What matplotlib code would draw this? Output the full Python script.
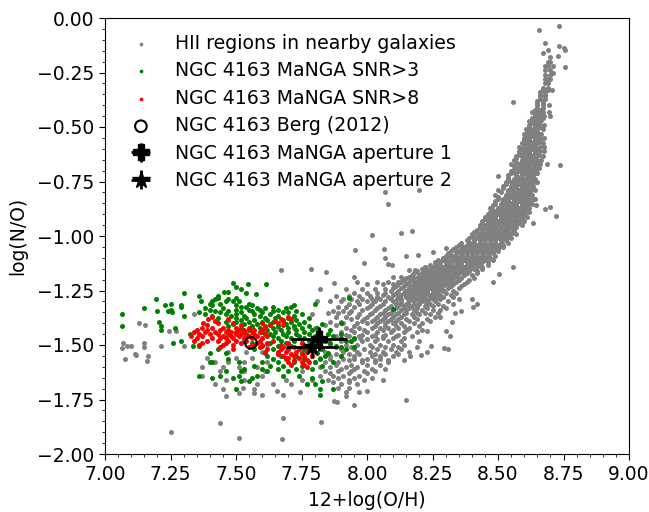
#!/usr/bin/env python
import matplotlib
matplotlib.use("Agg")
import matplotlib.pyplot as plt
from matplotlib.ticker import MultipleLocator

# all points, one row = (log N/O, [12+log O/H, ...])
hii_band = [
    (-1.46, [7.88, 7.93, 7.97, 8.02, 8.06, 8.11]),
    (-1.44, [7.90, 7.95, 8.00, 8.04, 8.09, 8.14, 8.19]),
    (-1.42, [7.92, 7.97, 8.02, 8.05, 8.08, 8.12, 8.16]),
    (-1.40, [7.91, 7.96, 8.00, 8.04, 8.07, 8.10, 8.13, 8.18, 8.21]),
    (-1.38, [7.94, 7.99, 8.03, 8.06, 8.09, 8.12, 8.15, 8.19, 8.23]),
    (-1.36, [7.97, 8.01, 8.05, 8.08, 8.11, 8.14, 8.17, 8.20, 8.24]),
    (-1.34, [7.98, 8.03, 8.07, 8.10, 8.13, 8.15, 8.18, 8.21, 8.25, 8.28]),
    (-1.32, [8.01, 8.05, 8.09, 8.12, 8.14, 8.17, 8.19, 8.22, 8.25, 8.29]),
    (-1.30, [8.03, 8.07, 8.10, 8.13, 8.16, 8.18, 8.21, 8.23, 8.26, 8.31]),
    (-1.28, [8.04, 8.08, 8.12, 8.15, 8.17, 8.19, 8.21, 8.24, 8.26, 8.29, 8.33]),
    (-1.26, [8.07, 8.11, 8.14, 8.16, 8.19, 8.21, 8.23, 8.25, 8.27, 8.30, 8.34]),
    (-1.24, [8.10, 8.13, 8.16, 8.18, 8.20, 8.22, 8.24, 8.26, 8.28, 8.31, 8.35]),
    (-1.22, [8.12, 8.15, 8.18, 8.20, 8.22, 8.24, 8.26, 8.28, 8.30, 8.33, 8.37]),
    (-1.20, [8.14, 8.17, 8.20, 8.22, 8.24, 8.26, 8.28, 8.30, 8.32, 8.35, 8.39]),
    (-1.18, [8.17, 8.20, 8.22, 8.24, 8.26, 8.28, 8.30, 8.32, 8.34, 8.37, 8.40]),
    (-1.16, [8.19, 8.22, 8.24, 8.27, 8.29, 8.31, 8.33, 8.35, 8.37, 8.39, 8.42]),
    (-1.14, [8.22, 8.25, 8.27, 8.29, 8.31, 8.33, 8.35, 8.37, 8.39, 8.42, 8.44]),
    (-1.12, [8.26, 8.28, 8.30, 8.32, 8.34, 8.36, 8.38, 8.40, 8.42, 8.44, 8.46]),
    (-1.10, [8.29, 8.31, 8.33, 8.35, 8.37, 8.39, 8.41, 8.43, 8.45, 8.47]),
    (-1.08, [8.31, 8.34, 8.36, 8.38, 8.40, 8.42, 8.44, 8.46, 8.48]),
    (-1.06, [8.33, 8.36, 8.38, 8.40, 8.42, 8.44, 8.46, 8.48, 8.50]),
    (-1.04, [8.35, 8.38, 8.40, 8.42, 8.44, 8.46, 8.48, 8.50, 8.52]),
    (-1.02, [8.38, 8.41, 8.43, 8.45, 8.47, 8.49, 8.51, 8.53]),
    (-1.00, [8.40, 8.42, 8.44, 8.46, 8.48, 8.50, 8.52, 8.54]),
    (-0.98, [8.41, 8.44, 8.46, 8.48, 8.50, 8.52, 8.54, 8.56]),
    (-0.96, [8.43, 8.45, 8.47, 8.49, 8.51, 8.53, 8.55, 8.57]),
    (-0.94, [8.44, 8.46, 8.48, 8.50, 8.52, 8.54, 8.56, 8.58]),
    (-0.92, [8.45, 8.47, 8.49, 8.51, 8.53, 8.55, 8.57, 8.59]),
    (-0.90, [8.46, 8.48, 8.50, 8.52, 8.54, 8.56, 8.58, 8.60]),
    (-0.88, [8.48, 8.50, 8.52, 8.54, 8.56, 8.58, 8.60]),
    (-0.86, [8.48, 8.51, 8.53, 8.55, 8.57, 8.59, 8.61]),
    (-0.84, [8.49, 8.52, 8.54, 8.56, 8.58, 8.60, 8.62]),
    (-0.82, [8.50, 8.53, 8.55, 8.57, 8.59, 8.61]),
    (-0.80, [8.51, 8.54, 8.56, 8.58, 8.60, 8.62]),
    (-0.78, [8.52, 8.55, 8.57, 8.59, 8.61, 8.63]),
    (-0.76, [8.53, 8.56, 8.58, 8.60, 8.62]),
    (-0.74, [8.54, 8.56, 8.58, 8.60, 8.62, 8.64]),
    (-0.72, [8.54, 8.57, 8.59, 8.61, 8.63]),
    (-0.70, [8.55, 8.58, 8.60, 8.62, 8.64]),
    (-0.68, [8.56, 8.58, 8.60, 8.62, 8.64]),
    (-0.66, [8.57, 8.59, 8.61, 8.63, 8.65]),
    (-0.64, [8.57, 8.60, 8.62, 8.64]),
    (-0.62, [8.58, 8.60, 8.62, 8.64]),
    (-0.60, [8.59, 8.61, 8.63, 8.65]),
    (-0.58, [8.60, 8.62, 8.64]),
    (-0.56, [8.60, 8.62, 8.64, 8.66]),
    (-0.54, [8.61, 8.63, 8.65]),
    (-0.52, [8.61, 8.63, 8.65]),
    (-0.50, [8.62, 8.64, 8.66]),
    (-0.48, [8.63, 8.65]),
    (-0.46, [8.63, 8.65, 8.67]),
    (-0.44, [8.64, 8.66]),
    (-0.42, [8.64, 8.66]),
    (-0.40, [8.65, 8.67]),
    (-0.38, [8.65, 8.67]),
    (-0.36, [8.66, 8.68]),
    (-0.34, [8.66, 8.68]),
    (-0.32, [8.67, 8.69]),
    (-0.30, [8.68, 8.69]),
    (-0.28, [8.68, 8.69, 8.70]),
    (-0.26, [8.68, 8.70]),
    (-0.24, [8.68, 8.70]),
    (-0.22, [8.68, 8.69, 8.71]),
    (-0.20, [8.69, 8.70]),
]

# second pass over the solid part of the band, between the rows above
hii_fill = [
    (-1.473, [7.95, 8.00, 8.04]), (-1.453, [7.92, 7.98, 8.03, 8.07, 8.12]),
    (-1.432, [7.94, 7.99, 8.06, 8.10, 8.15, 8.21]), (-1.412, [7.95, 8.03, 8.07, 8.11, 8.14, 8.20]),
    (-1.391, [7.98, 8.02, 8.05, 8.08, 8.11, 8.16, 8.24]), (-1.372, [8.00, 8.04, 8.07, 8.10, 8.13, 8.18, 8.26]),
    (-1.353, [8.02, 8.06, 8.09, 8.12, 8.15, 8.19, 8.22, 8.27]), (-1.332, [8.00, 8.04, 8.08, 8.11, 8.14, 8.16, 8.19, 8.23, 8.30]),
    (-1.312, [8.02, 8.06, 8.11, 8.13, 8.15, 8.18, 8.20, 8.24, 8.27, 8.33]), (-1.291, [8.05, 8.09, 8.13, 8.16, 8.18, 8.20, 8.22, 8.25, 8.28, 8.35]),
    (-1.272, [8.06, 8.10, 8.13, 8.15, 8.18, 8.20, 8.22, 8.24, 8.26, 8.28, 8.32]), (-1.252, [8.09, 8.12, 8.15, 8.17, 8.19, 8.21, 8.23, 8.25, 8.27, 8.29, 8.33]),
    (-1.231, [8.11, 8.14, 8.17, 8.19, 8.21, 8.23, 8.25, 8.27, 8.29, 8.32, 8.36]), (-1.211, [8.13, 8.16, 8.19, 8.21, 8.23, 8.25, 8.27, 8.29, 8.31, 8.34, 8.38]),
    (-1.191, [8.15, 8.18, 8.21, 8.23, 8.25, 8.27, 8.29, 8.31, 8.33, 8.36, 8.41]), (-1.172, [8.18, 8.21, 8.23, 8.25, 8.27, 8.29, 8.31, 8.33, 8.35, 8.38, 8.42]),
    (-1.151, [8.21, 8.23, 8.26, 8.28, 8.30, 8.32, 8.34, 8.36, 8.38, 8.41, 8.44]), (-1.132, [8.24, 8.26, 8.28, 8.30, 8.32, 8.34, 8.36, 8.38, 8.40, 8.43, 8.46]),
    (-1.111, [8.27, 8.29, 8.31, 8.33, 8.35, 8.37, 8.39, 8.41, 8.43, 8.45, 8.48]), (-1.091, [8.30, 8.32, 8.34, 8.36, 8.38, 8.40, 8.42, 8.44, 8.46, 8.49]),
    (-1.071, [8.32, 8.35, 8.37, 8.39, 8.41, 8.43, 8.45, 8.47, 8.50]), (-1.052, [8.34, 8.37, 8.39, 8.41, 8.43, 8.45, 8.47, 8.49, 8.52]),
    (-1.031, [8.36, 8.39, 8.41, 8.43, 8.45, 8.47, 8.49, 8.51, 8.54]), (-1.011, [8.39, 8.41, 8.43, 8.45, 8.47, 8.49, 8.51, 8.53, 8.55]),
    (-0.991, [8.40, 8.43, 8.45, 8.47, 8.49, 8.51, 8.53, 8.55, 8.57]), (-0.972, [8.42, 8.44, 8.46, 8.48, 8.50, 8.52, 8.54, 8.56]),
    (-0.951, [8.43, 8.45, 8.47, 8.49, 8.51, 8.53, 8.55, 8.57, 8.59]), (-0.931, [8.44, 8.46, 8.48, 8.50, 8.52, 8.54, 8.56, 8.58, 8.60]),
    (-0.911, [8.45, 8.47, 8.49, 8.51, 8.53, 8.55, 8.57, 8.59, 8.61]), (-0.892, [8.47, 8.49, 8.51, 8.53, 8.55, 8.57, 8.59, 8.62]),
    (-0.871, [8.47, 8.50, 8.52, 8.54, 8.56, 8.58, 8.60, 8.62]), (-0.851, [8.49, 8.51, 8.53, 8.55, 8.57, 8.59, 8.61, 8.63]),
    (-0.831, [8.50, 8.52, 8.54, 8.56, 8.58, 8.60, 8.62, 8.64]), (-0.812, [8.49, 8.53, 8.55, 8.57, 8.59, 8.61, 8.63]),
    (-0.791, [8.50, 8.54, 8.56, 8.58, 8.60, 8.62, 8.64]), (-0.771, [8.52, 8.55, 8.57, 8.59, 8.61, 8.63]),
    (-0.751, [8.53, 8.55, 8.57, 8.59, 8.61, 8.63, 8.65]), (-0.732, [8.54, 8.57, 8.59, 8.61, 8.63]),
    (-0.711, [8.55, 8.57, 8.59, 8.61, 8.63, 8.65]), (-0.691, [8.56, 8.59, 8.61, 8.63, 8.65]),
    (-0.671, [8.55, 8.58, 8.60, 8.62, 8.64, 8.66]), (-0.652, [8.56, 8.59, 8.61, 8.63, 8.65]),
    (-0.631, [8.57, 8.59, 8.61, 8.63, 8.65, 8.67]), (-0.611, [8.58, 8.60, 8.62, 8.64, 8.66]),
    (-0.591, [8.58, 8.60, 8.62, 8.64, 8.66]), (-0.572, [8.59, 8.61, 8.63, 8.65, 8.67]),
    (-0.551, [8.60, 8.62, 8.64, 8.66]), (-0.531, [8.60, 8.62, 8.64, 8.66]),
    (-0.511, [8.62, 8.64, 8.65, 8.67]), (-0.492, [8.62, 8.64, 8.66]),
    (-0.471, [8.62, 8.64, 8.66]), (-0.451, [8.64, 8.66]),
    (-0.431, [8.63, 8.65, 8.67]), (-0.412, [8.65, 8.67]),
    (-0.391, [8.65, 8.67]), (-0.371, [8.66, 8.68]),
    (-0.352, [8.66, 8.68]), (-0.331, [8.67, 8.69]),
]

# third pass, odd x values on rows that show white stripes otherwise
hii_fill_odd = [
    (-1.31, [8.115, 8.155, 8.195, 8.225]), (-1.29, [8.115, 8.155, 8.195, 8.235, 8.265]),
    (-1.27, [8.125, 8.165, 8.205, 8.235, 8.275]), (-1.25, [8.145, 8.185, 8.225, 8.265, 8.295]),
    (-1.23, [8.165, 8.205, 8.245, 8.285, 8.315]), (-1.21, [8.185, 8.225, 8.265, 8.305, 8.325]),
    (-1.19, [8.195, 8.245, 8.285, 8.325, 8.345]), (-1.17, [8.225, 8.265, 8.305, 8.345, 8.365]),
    (-1.15, [8.245, 8.285, 8.325, 8.365, 8.395]), (-1.13, [8.275, 8.315, 8.355, 8.395, 8.415]),
    (-1.11, [8.305, 8.345, 8.385, 8.425, 8.445]), (-1.09, [8.325, 8.365, 8.405, 8.445, 8.465]),
    (-1.07, [8.345, 8.385, 8.425, 8.465, 8.485]), (-1.05, [8.365, 8.405, 8.445, 8.485, 8.505]),
    (-1.03, [8.395, 8.435, 8.475, 8.515]), (-1.01, [8.415, 8.455, 8.495, 8.535]),
    (-0.99, [8.425, 8.465, 8.505, 8.545]), (-0.97, [8.445, 8.485, 8.525, 8.555]),
    (-0.95, [8.455, 8.495, 8.535, 8.565]), (-0.93, [8.465, 8.505, 8.545, 8.575]),
    (-0.91, [8.485, 8.525, 8.565, 8.585]), (-0.89, [8.495, 8.535, 8.575, 8.605]),
    (-0.87, [8.505, 8.545, 8.585, 8.615]), (-0.85, [8.515, 8.555, 8.595, 8.625]),
    (-0.83, [8.525, 8.565, 8.605, 8.635]), (-0.81, [8.535, 8.575, 8.615]),
    (-0.79, [8.545, 8.585, 8.625]), (-0.77, [8.555, 8.595, 8.635]),
    (-0.75, [8.565, 8.605, 8.645]), (-0.73, [8.575, 8.615, 8.635]),
    (-0.71, [8.565, 8.605, 8.645]), (-0.69, [8.575, 8.615, 8.655]),
    (-0.67, [8.585, 8.625, 8.645]), (-0.65, [8.595, 8.635, 8.665]),
    (-0.63, [8.585, 8.625, 8.655]), (-0.61, [8.605, 8.645, 8.675]),
    (-0.59, [8.615, 8.635, 8.675]), (-0.57, [8.625, 8.655]),
    (-0.55, [8.615, 8.655, 8.675]), (-0.53, [8.635, 8.665]),
    (-0.51, [8.605, 8.635]), (-0.49, [8.645, 8.675]),
    (-0.47, [8.645, 8.665]), (-0.45, [8.655, 8.675]),
]

hii_scatter = [
    (-0.035, [8.733]), (-0.055, [8.656]), (-0.116, [8.68]), (-0.13, [8.733]),
    (-0.136, [8.75]), (-0.146, [8.757, 8.69]), (-0.16, [8.672]), (-0.174, [8.73]),
    (-0.18, [8.70]), (-0.225, [8.757]), (-0.25, [8.71]), (-0.33, [8.706]),
    (-0.385, [8.557]), (-0.40, [8.695]), (-0.43, [8.696]), (-0.45, [8.697]),
    (-0.67, [8.687]), (-0.675, [8.737]), (-0.725, [8.50]), (-0.79, [8.20]),
    (-0.80, [8.07]), (-0.853, [8.08]), (-0.858, [8.645]), (-0.867, [8.70]),
    (-0.875, [8.68]), (-0.91, [8.72]), (-0.94, [8.635]), (-0.975, [8.17]),
    (-0.985, [8.13]), (-0.995, [8.02]), (-1.055, [8.30]), (-1.06, [8.065]),
    (-1.065, [7.955]), (-1.075, [8.25]), (-1.087, [8.195]), (-1.09, [8.15]),
    (-1.10, [8.07]), (-1.125, [7.99]), (-1.13, [8.08]), (-1.135, [8.095]),
    (-1.14, [8.22, 8.557]), (-1.15, [7.786]), (-1.155, [7.672, 8.16, 8.183]),
    (-1.165, [7.845]), (-1.175, [8.504]), (-1.19, [7.95, 8.10, 8.13, 8.16, 8.21]),
    (-1.21, [7.96, 8.04, 8.08, 8.12, 8.48]), (-1.215, [7.875]),
    (-1.22, [8.00, 8.06, 8.10]), (-1.245, [7.82, 7.92, 7.98, 8.03, 8.07]),
    (-1.26, [7.95, 8.00, 8.04]), (-1.275, [7.88, 7.93, 7.97, 8.01]),
    (-1.29, [7.91, 7.94, 7.98, 8.02, 8.40]), (-1.30, [7.81, 7.86, 7.90, 7.96, 8.00]),
    (-1.31, [7.93, 7.97, 8.42]), (-1.325, [7.89, 7.92, 7.95, 8.405]),
    (-1.345, [7.87, 7.91, 7.94, 8.36]), (-1.355, [7.85, 7.89, 7.93, 8.335]),
    (-1.37, [7.88, 7.92, 7.96, 8.28]), (-1.395, [7.86, 7.90, 8.325]),
    (-1.36, [7.34, 7.79]), (-1.40, [7.13]), (-1.41, [7.153, 7.84, 7.88]),
    (-1.435, [7.245, 7.27, 8.30, 8.23]), (-1.46, [8.315, 8.17]),
    (-1.48, [8.20, 7.85, 7.90, 7.94, 7.98, 8.03, 8.08, 8.13]),
    (-1.49, [7.07, 7.148]), (-1.505, [7.085, 7.10, 7.215, 7.30, 8.245]),
    (-1.50, [7.86, 7.92, 7.96, 8.01, 8.05, 8.10, 8.14]),
    (-1.515, [7.065, 8.295]), (-1.52, [7.90, 7.95, 7.99, 8.04, 8.09, 8.13, 8.31]),
    (-1.51, [7.15]), (-1.54, [7.115, 7.88, 7.93, 7.97, 8.03, 8.07, 8.12]),
    (-1.545, [7.12, 8.205]), (-1.55, [7.165, 8.165]),
    (-1.565, [7.075, 7.86, 7.91, 7.95, 8.00, 8.05]), (-1.575, [7.16]),
    (-1.58, [7.84, 7.89, 7.98, 8.03, 8.08]), (-1.60, [7.86, 7.92, 7.96]),
    (-1.62, [7.84, 7.89, 7.94, 7.99, 8.03]), (-1.64, [7.87, 7.91, 7.97]),
    (-1.66, [7.85, 7.93, 7.99, 8.06]), (-1.68, [7.90, 7.96]),
    (-1.695, [7.525, 7.89, 7.93]), (-1.70, [7.45, 7.57]),
    (-1.71, [7.655, 8.00]), (-1.715, [7.745, 7.92, 7.97]), (-1.72, [7.51, 7.57]),
    (-1.73, [7.60, 7.68]), (-1.735, [7.46, 7.92]), (-1.75, [8.15]),
    (-1.755, [7.875]), (-1.76, [7.885]), (-1.775, [7.95]),
    (-1.835, [7.68]), (-1.855, [7.825]), (-1.86, [7.44]), (-1.90, [7.25]),
    (-1.925, [7.51]), (-1.93, [7.675]),
    (-1.42, [7.66, 7.72, 7.80]), (-1.50, [7.57, 7.62, 7.76]),
    (-1.53, [7.47, 7.54, 7.60, 7.80, 7.84]), (-1.56, [7.39, 7.50, 7.56, 7.82]),
    (-1.58, [7.42, 7.47, 7.53, 7.62, 7.80]), (-1.60, [7.37, 7.45, 7.51, 7.58, 7.82]),
    (-1.62, [7.44, 7.53, 7.61, 7.75]), (-1.66, [7.46, 7.53, 7.69, 7.75, 7.79]),
    (-1.68, [7.42, 7.58, 7.64, 7.71, 7.77]), (-1.64, [7.37, 7.60, 7.82]),
    (-1.47, [7.975, 8.06, 8.10, 8.14]), (-1.51, [7.88, 7.94, 8.02, 8.07, 8.12, 8.19]),
    (-1.53, [7.91, 7.96, 8.01, 8.06, 8.11, 8.16, 8.23]), (-1.55, [7.86, 7.90, 7.95, 8.02, 8.05, 8.10]),
    (-1.57, [7.93, 7.98, 8.03, 8.08, 8.14]), (-1.59, [7.88, 7.94, 8.00, 8.05]),
    (-1.61, [7.90, 7.95, 8.02, 8.07]), (-1.63, [7.86, 7.93, 8.00]),
    (-1.65, [7.89, 7.95, 8.02]), (-1.67, [7.87, 7.93]),
]

snr3_rows = [
    (-1.215, [7.49]), (-1.22, [7.545, 7.615]), (-1.235, [7.50]), (-1.245, [7.52]),
    (-1.255, [7.455, 7.47]), (-1.26, [7.30, 7.54]), (-1.265, [7.575]),
    (-1.275, [7.36, 7.43]), (-1.285, [7.43, 7.50]), (-1.29, [7.195, 7.42, 7.47]),
    (-1.30, [7.365, 7.41, 7.46, 7.49, 7.51]), (-1.31, [7.25, 7.40, 7.44, 7.55, 7.80]),
    (-1.315, [7.23, 7.29, 7.41, 7.50, 7.56, 7.72]), (-1.325, [7.29, 7.52, 7.54, 7.64, 7.71]),
    (-1.33, [7.15, 7.38, 7.45, 7.58, 7.61, 7.69]), (-1.34, [7.25, 7.40, 7.50, 7.55, 7.59, 7.66]),
    (-1.345, [7.20, 7.24, 7.42, 7.47, 7.56, 7.64, 7.73]),
    (-1.35, [7.255, 7.36, 7.44, 7.52, 7.60, 7.68, 7.70]),
    (-1.36, [7.065, 7.38, 7.46, 7.50, 7.57, 7.63, 7.75]),
    (-1.365, [7.30, 7.41, 7.48, 7.53, 7.59, 7.66, 7.72]),
    (-1.375, [7.43, 7.50, 7.54, 7.61, 7.65, 7.70, 7.78]),
    (-1.385, [7.47, 7.52, 7.57, 7.62, 7.68, 7.73]),
    (-1.395, [7.205, 7.46, 7.50, 7.55, 7.60, 7.64, 7.71, 7.76]),
    (-1.405, [7.49, 7.53, 7.58, 7.63, 7.69, 7.74, 7.83]),
    (-1.415, [7.065, 7.213, 7.47, 7.56, 7.61, 7.66, 7.72, 7.78]),
    (-1.42, [7.267, 7.52, 7.59, 7.64, 7.70, 7.75, 7.81]),
    (-1.43, [7.213, 7.55, 7.62, 7.67, 7.73, 7.79, 7.86]),
    (-1.44, [7.60, 7.65, 7.70, 7.76, 7.82]),
    (-1.45, [7.325, 7.63, 7.68, 7.73, 7.78, 7.85, 7.90]),
    (-1.46, [7.64, 7.69, 7.74, 7.80, 7.87]),
    (-1.47, [7.66, 7.71, 7.76, 7.83, 7.90, 7.95]),
    (-1.48, [7.29, 7.53, 7.67, 7.72, 7.78, 7.84]),
    (-1.49, [7.26, 7.56, 7.63, 7.69, 7.75, 7.86]),
    (-1.505, [7.36, 7.335, 7.60, 7.66, 7.71, 7.80, 7.88]),
    (-1.52, [7.43, 7.57, 7.64, 7.70, 7.76, 7.83, 7.92]),
    (-1.535, [7.40, 7.46, 7.61, 7.66, 7.75, 7.81, 7.85]),
    (-1.55, [7.62, 7.67, 7.73, 7.79, 7.84, 7.90]),
    (-1.565, [7.47, 7.64, 7.69, 7.76, 7.82]),
    (-1.58, [7.40, 7.41, 7.51, 7.60, 7.66, 7.72, 7.80, 7.87]),
    (-1.595, [7.57, 7.63, 7.68, 7.75, 7.83]),
    (-1.61, [7.53, 7.60, 7.66, 7.73, 7.79]),
    (-1.62, [7.46, 7.52, 7.62, 7.70]),
    (-1.64, [7.36, 7.44, 7.51, 7.58, 7.68, 7.74]),
    (-1.65, [7.41, 7.49, 7.56, 7.79]),
    (-1.665, [7.52, 7.55, 7.83]),
    (-1.68, [7.77, 7.80]), (-1.70, [7.50, 7.82, 7.87]), (-1.73, [7.82]),
    (-1.335, [8.10]), (-1.285, [7.93]), (-1.40, [7.90]), (-1.48, [7.92, 7.94]),
    (-1.51, [7.90, 7.95]),
]

snr8_rows = [
    (-1.37, [7.41, 7.70]),
    (-1.38, [7.395, 7.47, 7.67, 7.71]),
    (-1.39, [7.42, 7.65, 7.68]),
    (-1.40, [7.375, 7.43, 7.49, 7.60, 7.66]),
    (-1.41, [7.39, 7.52, 7.63, 7.68]),
    (-1.42, [7.37, 7.41, 7.45, 7.50, 7.55, 7.61]),
    (-1.43, [7.35, 7.39, 7.44, 7.47, 7.51, 7.53, 7.57, 7.60]),
    (-1.44, [7.34, 7.38, 7.42, 7.46, 7.48, 7.50, 7.53, 7.56, 7.59]),
    (-1.45, [7.36, 7.40, 7.43, 7.47, 7.50, 7.52, 7.54, 7.57, 7.61]),
    (-1.46, [7.33, 7.37, 7.45, 7.48, 7.51, 7.55, 7.58, 7.62]),
    (-1.47, [7.35, 7.41, 7.44, 7.46, 7.49, 7.53, 7.56, 7.60]),
    (-1.48, [7.34, 7.39, 7.43, 7.47, 7.50, 7.54, 7.59, 7.64]),
    (-1.49, [7.37, 7.46, 7.52, 7.58, 7.62, 7.70, 7.75]),
    (-1.50, [7.36, 7.45, 7.49, 7.56, 7.60, 7.67]),
    (-1.51, [7.44, 7.55, 7.59, 7.68, 7.72, 7.76]),
    (-1.52, [7.49, 7.62, 7.67, 7.70, 7.74, 7.78]),
    (-1.53, [7.61, 7.66, 7.69, 7.73, 7.77]),
    (-1.54, [7.66, 7.71, 7.75]),
    (-1.55, [7.68, 7.72, 7.76, 7.79]),
    (-1.56, [7.69, 7.70, 7.74]),
    (-1.57, [7.72, 7.77]),
    (-1.58, [7.70, 7.75, 7.78]),
    (-1.59, [7.71, 7.76]),
    (-1.60, [7.77]),
]

berg_x, berg_y = 7.557, -1.49
ap1_x, ap1_y, ap1_xerr, ap1_yerr = 7.817, -1.473, 0.107, 0.055
ap2_x, ap2_y, ap2_xerr, ap2_yerr = 7.79, -1.51, 0.10, 0.05

labels = ['HII regions in nearby galaxies', 'NGC 4163 MaNGA SNR>3', 'NGC 4163 MaNGA SNR>8',
          'NGC 4163 Berg (2012)', 'NGC 4163 MaNGA aperture 1', 'NGC 4163 MaNGA aperture 2']


def flatten(rows):
    xs, ys = [], []
    for y, row in rows:
        for x in row:
            xs.append(x)
            ys.append(y)
    return xs, ys


plt.rcParams['font.size'] = 13.5
plt.rcParams['xtick.major.size'] = 4.5
plt.rcParams['ytick.major.size'] = 4.5
plt.rcParams['xtick.minor.size'] = 2.5
plt.rcParams['ytick.minor.size'] = 2.5

fig = plt.figure(figsize=(6.49, 5.12), dpi=100)
ax = fig.add_axes([105 / 649, 1 - 454 / 512, 524 / 649, 436 / 512])

hx, hy = flatten(hii_band + hii_fill + hii_fill_odd + hii_scatter)
ax.scatter(hx, hy, s=13, c='gray', linewidths=0, label=labels[0])
gx, gy = flatten(snr3_rows)
ax.scatter(gx, gy, s=13, c='green', linewidths=0, label=labels[1])
rx, ry = flatten(snr8_rows)
ax.scatter(rx, ry, s=13, c='red', linewidths=0, label=labels[2])
ax.scatter([berg_x], [berg_y], s=70, facecolors='none', edgecolors='k', linewidths=1.5, label=labels[3])
ax.errorbar([ap1_x], [ap1_y], xerr=[ap1_xerr], yerr=[ap1_yerr], fmt='P', color='k', ms=11,
            elinewidth=2, label=labels[4])
ax.errorbar([ap2_x], [ap2_y], xerr=[ap2_xerr], yerr=[ap2_yerr], fmt='*', color='k', ms=13,
            elinewidth=2, label=labels[5])

ax.set_xlim(7, 9)
ax.set_ylim(-2, 0)
ax.xaxis.set_major_locator(MultipleLocator(0.25))
ax.xaxis.set_minor_locator(MultipleLocator(0.05))
ax.yaxis.set_major_locator(MultipleLocator(0.25))
ax.yaxis.set_minor_locator(MultipleLocator(0.05))
ax.xaxis.set_major_formatter('{x:.2f}')
ax.yaxis.set_major_formatter('{x:.2f}')
ax.set_xlabel('12+log(O/H)', labelpad=5)
ax.set_ylabel('log(N/O)', labelpad=7)

leg = ax.legend(loc='upper left', frameon=False, fontsize=13.6, labelspacing=0.45,
                bbox_to_anchor=(0.0, 1.003))
for handle in leg.legend_handles[:3]:
    handle.set_sizes([7])

fig.savefig('out.png', dpi=100)
